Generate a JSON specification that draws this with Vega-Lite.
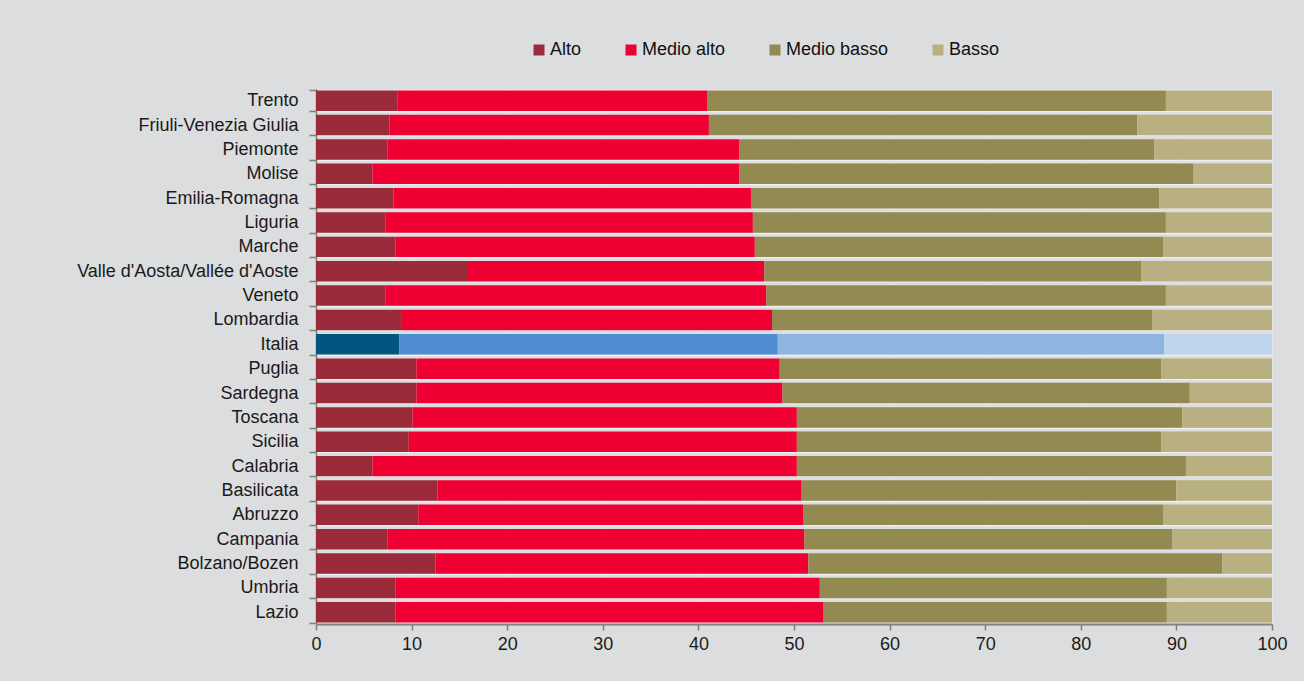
{
  "$schema": "https://vega.github.io/schema/vega-lite/v6.json",
  "width": 956,
  "height": 535,
  "autosize": {"type": "none"},
  "padding": {"left": 316, "top": 89, "right": 32, "bottom": 57},
  "background": "#DCDDDF",
  "config": {
    "view": {"stroke": null},
    "font": "Liberation Sans"
  },
  "data": {
    "values": [
      {"r": "Trento", "c": "Alto", "o": 1, "v": 8.5},
      {"r": "Trento", "c": "Medio alto", "o": 2, "v": 32.4},
      {"r": "Trento", "c": "Medio basso", "o": 3, "v": 48.0},
      {"r": "Trento", "c": "Basso", "o": 4, "v": 11.1},
      {"r": "Friuli-Venezia Giulia", "c": "Alto", "o": 1, "v": 7.7},
      {"r": "Friuli-Venezia Giulia", "c": "Medio alto", "o": 2, "v": 33.4},
      {"r": "Friuli-Venezia Giulia", "c": "Medio basso", "o": 3, "v": 44.8},
      {"r": "Friuli-Venezia Giulia", "c": "Basso", "o": 4, "v": 14.1},
      {"r": "Piemonte", "c": "Alto", "o": 1, "v": 7.5},
      {"r": "Piemonte", "c": "Medio alto", "o": 2, "v": 36.8},
      {"r": "Piemonte", "c": "Medio basso", "o": 3, "v": 43.4},
      {"r": "Piemonte", "c": "Basso", "o": 4, "v": 12.3},
      {"r": "Molise", "c": "Alto", "o": 1, "v": 5.9},
      {"r": "Molise", "c": "Medio alto", "o": 2, "v": 38.4},
      {"r": "Molise", "c": "Medio basso", "o": 3, "v": 47.5},
      {"r": "Molise", "c": "Basso", "o": 4, "v": 8.2},
      {"r": "Emilia-Romagna", "c": "Alto", "o": 1, "v": 8.1},
      {"r": "Emilia-Romagna", "c": "Medio alto", "o": 2, "v": 37.4},
      {"r": "Emilia-Romagna", "c": "Medio basso", "o": 3, "v": 42.7},
      {"r": "Emilia-Romagna", "c": "Basso", "o": 4, "v": 11.8},
      {"r": "Liguria", "c": "Alto", "o": 1, "v": 7.3},
      {"r": "Liguria", "c": "Medio alto", "o": 2, "v": 38.4},
      {"r": "Liguria", "c": "Medio basso", "o": 3, "v": 43.2},
      {"r": "Liguria", "c": "Basso", "o": 4, "v": 11.1},
      {"r": "Marche", "c": "Alto", "o": 1, "v": 8.3},
      {"r": "Marche", "c": "Medio alto", "o": 2, "v": 37.6},
      {"r": "Marche", "c": "Medio basso", "o": 3, "v": 42.7},
      {"r": "Marche", "c": "Basso", "o": 4, "v": 11.4},
      {"r": "Valle d'Aosta/Vallée d'Aoste", "c": "Alto", "o": 1, "v": 15.9},
      {"r": "Valle d'Aosta/Vallée d'Aoste", "c": "Medio alto", "o": 2, "v": 31.0},
      {"r": "Valle d'Aosta/Vallée d'Aoste", "c": "Medio basso", "o": 3, "v": 39.4},
      {"r": "Valle d'Aosta/Vallée d'Aoste", "c": "Basso", "o": 4, "v": 13.7},
      {"r": "Veneto", "c": "Alto", "o": 1, "v": 7.3},
      {"r": "Veneto", "c": "Medio alto", "o": 2, "v": 39.8},
      {"r": "Veneto", "c": "Medio basso", "o": 3, "v": 41.8},
      {"r": "Veneto", "c": "Basso", "o": 4, "v": 11.1},
      {"r": "Lombardia", "c": "Alto", "o": 1, "v": 8.9},
      {"r": "Lombardia", "c": "Medio alto", "o": 2, "v": 38.8},
      {"r": "Lombardia", "c": "Medio basso", "o": 3, "v": 39.8},
      {"r": "Lombardia", "c": "Basso", "o": 4, "v": 12.5},
      {"r": "Italia", "c": "Alto-IT", "o": 1, "v": 8.7},
      {"r": "Italia", "c": "Medio alto-IT", "o": 2, "v": 39.6},
      {"r": "Italia", "c": "Medio basso-IT", "o": 3, "v": 40.4},
      {"r": "Italia", "c": "Basso-IT", "o": 4, "v": 11.3},
      {"r": "Puglia", "c": "Alto", "o": 1, "v": 10.5},
      {"r": "Puglia", "c": "Medio alto", "o": 2, "v": 38.0},
      {"r": "Puglia", "c": "Medio basso", "o": 3, "v": 39.9},
      {"r": "Puglia", "c": "Basso", "o": 4, "v": 11.6},
      {"r": "Sardegna", "c": "Alto", "o": 1, "v": 10.5},
      {"r": "Sardegna", "c": "Medio alto", "o": 2, "v": 38.3},
      {"r": "Sardegna", "c": "Medio basso", "o": 3, "v": 42.6},
      {"r": "Sardegna", "c": "Basso", "o": 4, "v": 8.6},
      {"r": "Toscana", "c": "Alto", "o": 1, "v": 10.1},
      {"r": "Toscana", "c": "Medio alto", "o": 2, "v": 40.2},
      {"r": "Toscana", "c": "Medio basso", "o": 3, "v": 40.3},
      {"r": "Toscana", "c": "Basso", "o": 4, "v": 9.4},
      {"r": "Sicilia", "c": "Alto", "o": 1, "v": 9.7},
      {"r": "Sicilia", "c": "Medio alto", "o": 2, "v": 40.6},
      {"r": "Sicilia", "c": "Medio basso", "o": 3, "v": 38.1},
      {"r": "Sicilia", "c": "Basso", "o": 4, "v": 11.6},
      {"r": "Calabria", "c": "Alto", "o": 1, "v": 5.9},
      {"r": "Calabria", "c": "Medio alto", "o": 2, "v": 44.4},
      {"r": "Calabria", "c": "Medio basso", "o": 3, "v": 40.7},
      {"r": "Calabria", "c": "Basso", "o": 4, "v": 9.0},
      {"r": "Basilicata", "c": "Alto", "o": 1, "v": 12.7},
      {"r": "Basilicata", "c": "Medio alto", "o": 2, "v": 38.1},
      {"r": "Basilicata", "c": "Medio basso", "o": 3, "v": 39.2},
      {"r": "Basilicata", "c": "Basso", "o": 4, "v": 10.0},
      {"r": "Abruzzo", "c": "Alto", "o": 1, "v": 10.7},
      {"r": "Abruzzo", "c": "Medio alto", "o": 2, "v": 40.3},
      {"r": "Abruzzo", "c": "Medio basso", "o": 3, "v": 37.6},
      {"r": "Abruzzo", "c": "Basso", "o": 4, "v": 11.4},
      {"r": "Campania", "c": "Alto", "o": 1, "v": 7.5},
      {"r": "Campania", "c": "Medio alto", "o": 2, "v": 43.6},
      {"r": "Campania", "c": "Medio basso", "o": 3, "v": 38.5},
      {"r": "Campania", "c": "Basso", "o": 4, "v": 10.4},
      {"r": "Bolzano/Bozen", "c": "Alto", "o": 1, "v": 12.5},
      {"r": "Bolzano/Bozen", "c": "Medio alto", "o": 2, "v": 39.0},
      {"r": "Bolzano/Bozen", "c": "Medio basso", "o": 3, "v": 43.3},
      {"r": "Bolzano/Bozen", "c": "Basso", "o": 4, "v": 5.2},
      {"r": "Umbria", "c": "Alto", "o": 1, "v": 8.3},
      {"r": "Umbria", "c": "Medio alto", "o": 2, "v": 44.4},
      {"r": "Umbria", "c": "Medio basso", "o": 3, "v": 36.3},
      {"r": "Umbria", "c": "Basso", "o": 4, "v": 11.0},
      {"r": "Lazio", "c": "Alto", "o": 1, "v": 8.3},
      {"r": "Lazio", "c": "Medio alto", "o": 2, "v": 44.8},
      {"r": "Lazio", "c": "Medio basso", "o": 3, "v": 35.9},
      {"r": "Lazio", "c": "Basso", "o": 4, "v": 11.0}
    ]
  },
  "mark": {"type": "bar"},
  "encoding": {
    "y": {
      "field": "r",
      "type": "nominal",
      "sort": null,
      "title": null,
      "scale": {"paddingInner": 0.16, "paddingOuter": 0.06},
      "axis": {
        "tickBand": "extent",
        "grid": true,
        "gridColor": "#EFEFEF",
        "gridWidth": 1.5,
        "domainColor": "#7F7F7F",
        "domainWidth": 1.5,
        "tickColor": "#7F7F7F",
        "tickWidth": 1.5,
        "tickSize": 7,
        "labelPadding": 11,
        "labelFontSize": 18,
        "labelLimit": 400,
        "labelColor": "#1A1A1A",
        "labelFont": "Liberation Sans"
      }
    },
    "x": {
      "field": "v",
      "type": "quantitative",
      "stack": "zero",
      "title": null,
      "scale": {"domain": [0, 100], "nice": false},
      "axis": {
        "values": [0, 10, 20, 30, 40, 50, 60, 70, 80, 90, 100],
        "grid": true,
        "gridColor": "#E5E5E6",
        "gridWidth": 1,
        "domainColor": "#7F7F7F",
        "domainWidth": 2,
        "tickColor": "#7F7F7F",
        "tickWidth": 1.5,
        "tickSize": 6,
        "labelPadding": 5,
        "labelFlush": false,
        "labelFontSize": 18,
        "labelColor": "#1A1A1A",
        "labelFont": "Liberation Sans"
      }
    },
    "order": {"field": "o", "type": "quantitative"},
    "color": {
      "field": "c",
      "type": "nominal",
      "title": null,
      "scale": {
        "domain": ["Alto", "Medio alto", "Medio basso", "Basso", "Alto-IT", "Medio alto-IT", "Medio basso-IT", "Basso-IT"],
        "range": ["#9B2B3B", "#EF0033", "#938A52", "#B9B081", "#00567E", "#508ED4", "#8EB4E2", "#BDD6EE"]
      },
      "legend": {
        "values": ["Alto", "Medio alto", "Medio basso", "Basso"],
        "orient": "none",
        "legendX": 214,
        "legendY": -48,
        "direction": "horizontal",
        "symbolType": "square",
        "symbolSize": 121,
        "symbolStrokeWidth": 0,
        "labelOffset": 2,
        "columnPadding": 40,
        "labelFontSize": 18,
        "labelColor": "#111111",
        "labelFont": "Liberation Sans"
      }
    }
  }
}
